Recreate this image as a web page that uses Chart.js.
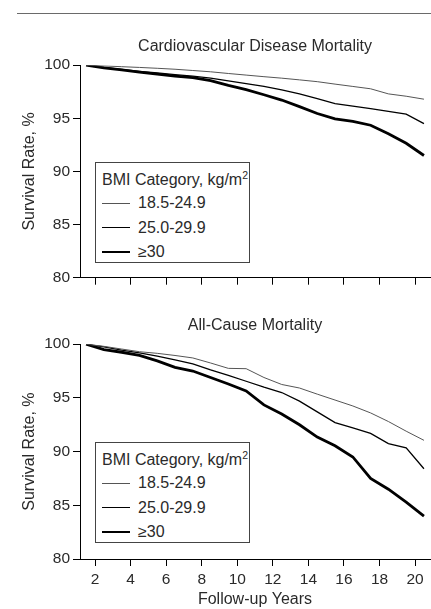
<!DOCTYPE html>
<html>
<head>
<meta charset="utf-8">
<script src="https://cdn.jsdelivr.net/npm/chart.js@4.4.1/dist/chart.umd.min.js"></script>
<style>
  body { margin: 0; width: 431px; height: 609px; background: #fff; position: relative; overflow: hidden;
         font-family: "Liberation Sans", Arial, sans-serif; color: #2a2a2a; }
  .rule { position: absolute; left: 17px; top: 13px; width: 414px; height: 1px; background: #6a6a6a; }
  canvas { position: absolute; left: 0; }
  .legend { position: absolute; left: 95px; width: 155px; height: 101px; border: 1px solid #444;
            box-sizing: border-box; font-size: 16px; background: #fff; }
  .legend .ttl { position: absolute; left: 6px; top: 6px; white-space: nowrap; }
  .legend .ttl sup { font-size: 10.5px; }
  .legend .row { position: absolute; left: 0; height: 18px; width: 100%; }
  .legend .swatch { position: absolute; left: 6px; width: 28px; }
  .legend .lbl { position: absolute; left: 42px; top: 0; line-height: 18px; }
</style>
</head>
<body>
<div class="rule"></div>
<canvas id="cvdChart" width="431" height="290" style="top:0px;width:431px;height:290px"></canvas>
<canvas id="allChart" width="431" height="330" style="top:279px;width:431px;height:330px"></canvas>
<div class="legend" id="cvdLegend" style="top:162px"></div>
<div class="legend" id="allLegend" style="top:442px"></div>

<script>
// follow-up years (shared by both panels)
var years = [1.5, 2.5, 3.5, 4.5, 5.5, 6.5, 7.5, 8.5, 9.5, 10.5, 11.5, 12.5, 13.5, 14.5, 15.5, 16.5, 17.5, 18.5, 19.5, 20.5];
var xTicks = [2, 4, 6, 8, 10, 12, 14, 16, 18, 20];
var yTicks = [80, 85, 90, 95, 100];
var bmiLabels = ['18.5-24.9', '25.0-29.9', '≥30'];

// Cardiovascular disease mortality, survival %
var cvdNormal = [100, 99.93, 99.86, 99.79, 99.71, 99.62, 99.5, 99.38, 99.22, 99.07, 98.92, 98.78, 98.62, 98.45, 98.22, 98.0, 97.78, 97.3, 97.08, 96.8];
var cvdOver   = [100, 99.8, 99.6, 99.42, 99.27, 99.12, 98.98, 98.78, 98.52, 98.27, 98.0, 97.68, 97.3, 96.85, 96.38, 96.15, 95.92, 95.65, 95.4, 94.5];
var cvdObese  = [100, 99.75, 99.55, 99.35, 99.15, 98.98, 98.83, 98.55, 98.1, 97.7, 97.22, 96.72, 96.1, 95.45, 94.95, 94.72, 94.35, 93.55, 92.65, 91.5];

// All-cause mortality, survival %
var allNormal = [100, 99.8, 99.55, 99.3, 99.15, 98.95, 98.72, 98.25, 97.75, 97.72, 96.9, 96.25, 95.92, 95.35, 94.8, 94.25, 93.6, 92.8, 91.9, 91.05];
var allOver   = [100, 99.75, 99.45, 99.2, 98.9, 98.55, 98.16, 97.6, 97.1, 96.55, 96.0, 95.5, 94.7, 93.7, 92.7, 92.2, 91.7, 90.75, 90.35, 88.4];
var allObese  = [100, 99.5, 99.25, 98.95, 98.45, 97.85, 97.5, 96.9, 96.3, 95.65, 94.35, 93.5, 92.5, 91.35, 90.55, 89.5, 87.5, 86.5, 85.3, 84.0];

var lineColors = ['#555', '#000', '#000'];
var lineWidths = [1, 1.3, 2.8];

Chart.defaults.font.family = "'Liberation Sans', Arial, sans-serif";
Chart.defaults.font.size = 16;
Chart.defaults.color = '#2a2a2a';

function points(vals) {
    return vals.map(function (v, i) { return { x: years[i], y: v }; });
}

function makeChart(id, title, series, bottomAxis, xHeight) {
    var datasets = series.map(function (vals, i) {
        return {
            label: bmiLabels[i],
            data: points(vals),
            borderColor: lineColors[i],
            borderWidth: lineWidths[i],
            pointRadius: 0,
            tension: 0,
            fill: false
        };
    });
    var ctx = document.getElementById(id).getContext('2d');
    return new Chart(ctx, {
        type: 'line',
        data: { datasets: datasets },
        options: {
            responsive: false,
            animation: false,
            layout: { padding: { left: 0, right: 1, top: 0, bottom: 0 } },
            plugins: {
                legend: { display: false },
                tooltip: { enabled: false },
                title: {
                    display: true,
                    text: title,
                    fullSize: false,
                    font: { size: 16, weight: 'normal' },
                    padding: { top: 37, bottom: 9 }
                }
            },
            scales: {
                x: {
                    type: 'linear',
                    min: 1.156,
                    max: 20.84,
                    afterBuildTicks: function (s) { s.ticks = xTicks.map(function (v) { return { value: v }; }); },
                    afterFit: function (s) { s.height = xHeight; },
                    grid: { display: true, drawOnChartArea: false, drawTicks: true, tickLength: 7, color: '#000' },
                    border: { display: true, color: '#000', width: 1 },
                    ticks: { display: bottomAxis, padding: 4, autoSkip: false, maxRotation: 0, font: { size: 15.5 } },
                    title: {
                        display: bottomAxis,
                        text: 'Follow-up Years',
                        padding: { top: 0, bottom: 0 }
                    }
                },
                y: {
                    min: 80,
                    max: 100,
                    afterBuildTicks: function (s) { s.ticks = yTicks.map(function (v) { return { value: v }; }); },
                    afterFit: function (s) { s.width = 80; },
                    grid: { display: true, drawOnChartArea: false, drawTicks: true, tickLength: 7, color: '#000' },
                    border: { display: true, color: '#000', width: 1 },
                    ticks: { padding: 3, font: { size: 15.5 } },
                    title: {
                        display: true,
                        text: 'Survival Rate, %',
                        padding: { top: 20, bottom: 0 }
                    }
                }
            }
        }
    });
}

// legend box built from the chart's datasets
function buildLegend(chart, boxId) {
    var box = document.getElementById(boxId);
    var html = '<div class="ttl">BMI Category, kg/m<sup>2</sup></div>';
    var tops = [31, 56, 80];
    chart.data.datasets.forEach(function (ds, i) {
        var w = ds.borderWidth;
        html += '<div class="row" style="top:' + tops[i] + 'px">' +
            '<div class="swatch" style="top:' + (9 - w / 2) + 'px;border-top:' + w + 'px solid ' + ds.borderColor + '"></div>' +
            '<div class="lbl">' + ds.label + '</div></div>';
    });
    box.innerHTML = html;
}

var cvdChart = makeChart('cvdChart', 'Cardiovascular Disease Mortality', [cvdNormal, cvdOver, cvdObese], false, 10.5);
var allChart = makeChart('allChart', 'All-Cause Mortality', [allNormal, allOver, allObese], true, 50);
buildLegend(cvdChart, 'cvdLegend');
buildLegend(allChart, 'allLegend');
</script>
</body>
</html>
